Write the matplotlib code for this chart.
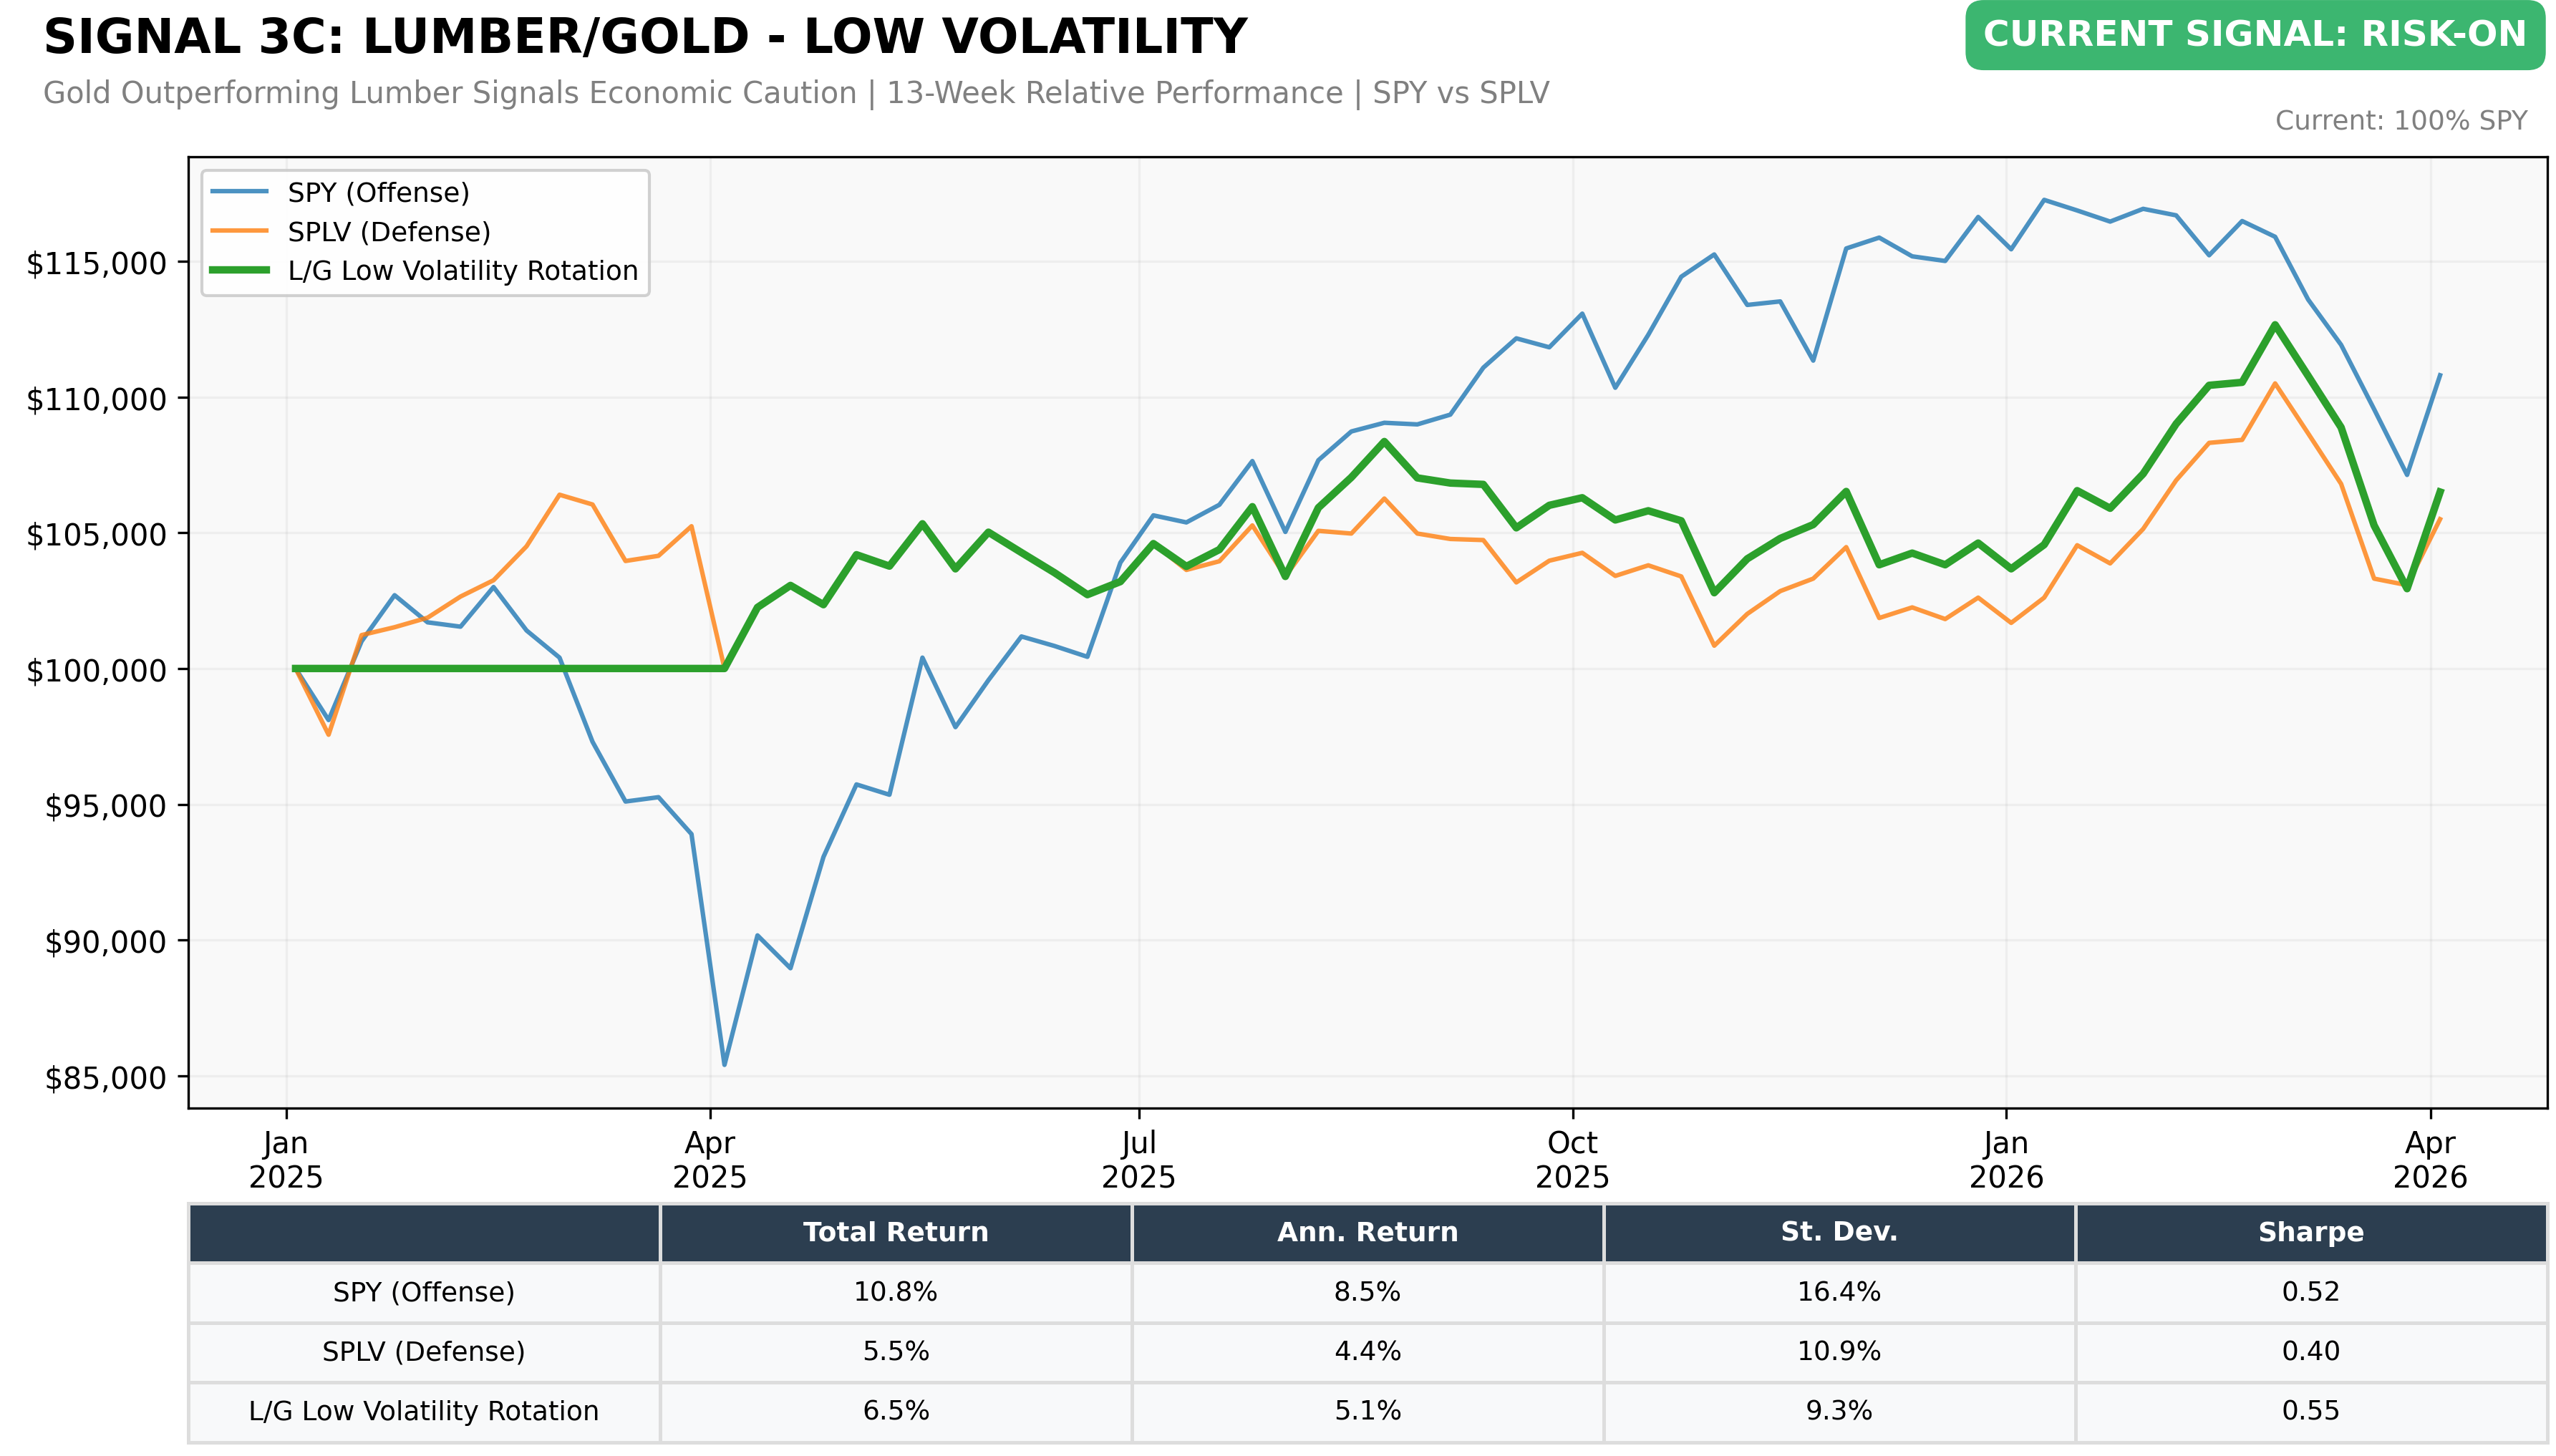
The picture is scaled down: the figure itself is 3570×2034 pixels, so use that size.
import pandas as pd
import matplotlib.pyplot as plt
import matplotlib.dates as mdates
from matplotlib.ticker import FuncFormatter

# Weekly values (Fridays), Jan 3 2025 -> Apr 3 2026
dates = pd.date_range('2025-01-03', periods=66, freq='W-FRI')

spy = [100000, 98100, 101000, 102700, 101700, 101540, 103000, 101400, 100400, 97300,
       95100, 95260, 93900, 85400, 90170, 88960, 93060, 95730, 95350, 100400,
       97840, 99570, 101180, 100830, 100430, 103900, 105640, 105380, 106030, 107640,
       105030, 107670, 108730, 109050, 108990, 109350, 111080, 112160, 111830, 113070,
       110340, 112290, 114430, 115250, 113390, 113520, 111340, 115470, 115870, 115180,
       115010, 116630, 115440, 117260, 116870, 116460, 116930, 116690, 115220, 116480,
       115900, 113590, 111920, 109550, 107130, 110800]

splv = [100000, 97560, 101230, 101520, 101870, 102650, 103250, 104500, 106400, 106040,
        103960, 104150, 105240, 100000, 102250, 103060, 102350, 104190, 103770, 105330,
        103670, 105020, 104270, 103530, 102720, 103200, 104600, 103630, 103950, 105270,
        103390, 105070, 104970, 106260, 104970, 104770, 104730, 103170, 103970, 104260,
        103410, 103800, 103390, 100840, 102010, 102850, 103310, 104470, 101860, 102250,
        101820, 102610, 101680, 102610, 104540, 103870, 105140, 106930, 108310, 108420,
        110500, 108660, 106800, 103310, 103070, 105500]

strategy = [100000, 100000, 100000, 100000, 100000, 100000, 100000, 100000, 100000, 100000,
            100000, 100000, 100000, 100000, 102250, 103060, 102350, 104190, 103770, 105330,
            103670, 105020, 104270, 103530, 102720, 103200, 104600, 103760, 104380, 105960,
            103390, 105920, 107040, 108360, 107020, 106830, 106780, 105180, 106010, 106290,
            105470, 105810, 105440, 102790, 104040, 104790, 105300, 106520, 103820, 104250,
            103820, 104620, 103670, 104560, 106550, 105900, 107170, 109010, 110430, 110540,
            112660, 110780, 108880, 105270, 102940, 106500]

series_names = ['SPY (Offense)', 'SPLV (Defense)', 'L/G Low Volatility Rotation']
table_cols = ['', 'Total Return', 'Ann. Return', 'St. Dev.', 'Sharpe']
total_return = ['10.8%', '5.5%', '6.5%']
ann_return = ['8.5%', '4.4%', '5.1%']
st_dev = ['16.4%', '10.9%', '9.3%']
sharpe = ['0.52', '0.40', '0.55']


def main():
    fig = plt.figure(figsize=(11.9, 6.7833), dpi=300)
    ax = fig.add_axes([0.0737, 0.2388, 0.9229, 0.6532])
    ax.set_facecolor('#f9f9f9')

    ax.plot(dates, spy, color='#1f77b4', alpha=0.8, linewidth=1.5, label=series_names[0])
    ax.plot(dates, splv, color='#ff7f0e', alpha=0.8, linewidth=1.5, label=series_names[1])
    ax.plot(dates, strategy, color='#2ca02c', linewidth=2.5, label=series_names[2])

    ax.xaxis.set_major_locator(mdates.MonthLocator(bymonth=[1, 4, 7, 10]))
    ax.xaxis.set_major_formatter(mdates.DateFormatter('%b\n%Y'))
    ax.yaxis.set_major_formatter(FuncFormatter(lambda v, p: f'${v:,.0f}'))
    ax.tick_params(labelsize=10)
    ax.grid(True, alpha=0.15)
    ax.legend(loc='upper left', fontsize=9, framealpha=0.9)

    # Title block
    fig.text(0.0168, 0.973, 'SIGNAL 3C: LUMBER/GOLD - LOW VOLATILITY',
             fontsize=16, fontweight='bold', va='center', ha='left')
    fig.text(0.0168, 0.9347,
             'Gold Outperforming Lumber Signals Economic Caution | 13-Week Relative Performance | SPY vs SPLV',
             fontsize=10, color='gray', va='center', ha='left')
    fig.text(0.989, 0.9754, 'CURRENT SIGNAL: RISK-ON', fontsize=12, fontweight='bold',
             color='white', va='center', ha='right',
             bbox=dict(boxstyle='round,pad=0.5', facecolor='#27ae60', edgecolor='none', alpha=0.9))
    fig.text(0.989, 0.9155, 'Current: 100% SPY', fontsize=9, color='gray', va='center', ha='right')

    # Stats table
    rows = [[series_names[i], total_return[i], ann_return[i], st_dev[i], sharpe[i]] for i in range(3)]
    tbl = ax.table(cellText=rows, colLabels=table_cols, cellLoc='center',
                   bbox=[0, -0.351, 1, 0.251])
    tbl.auto_set_font_size(False)
    tbl.set_fontsize(9)
    for (r, c), cell in tbl.get_celld().items():
        cell.set_edgecolor('#dddddd')
        cell.set_linewidth(1.2)
        if r == 0:
            cell.set_facecolor('#2c3e50')
            cell.set_text_props(color='white', fontweight='bold')
        else:
            cell.set_facecolor('#f8f9fa')

    fig.savefig('out.png', dpi=300)


if __name__ == '__main__':
    main()
